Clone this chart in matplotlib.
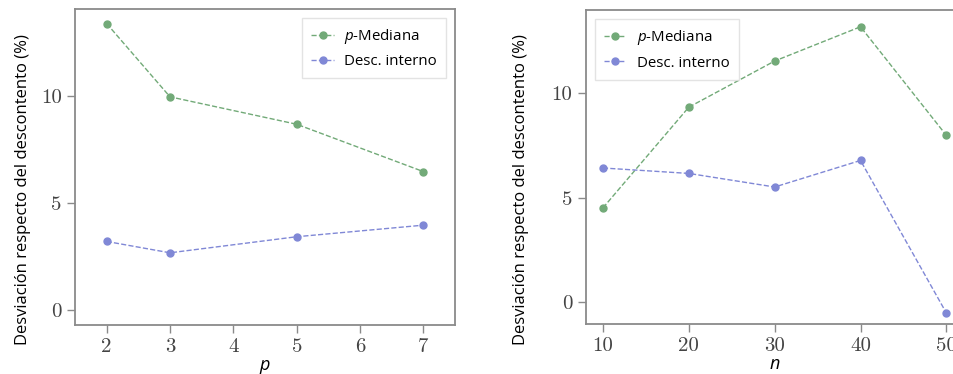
import matplotlib.pyplot as plt
from matplotlib.ticker import FuncFormatter

# Datos panel izquierdo (variando p)
p_vals = [2, 3, 5, 7]
p_mediana_p = [13.37, 9.95, 8.67, 6.46]
desc_interno_p = [3.20, 2.67, 3.42, 3.96]

# Datos panel derecho (variando n)
n_vals = [10, 20, 30, 40, 50]
p_mediana_n = [4.52, 9.34, 11.55, 13.19, 7.99]
desc_interno_n = [6.43, 6.17, 5.52, 6.79, -0.51]

verde = '#72aa78'
azul = '#8088d6'
gris = '#8a8a8a'
ylabel = 'Desviación respecto del descontento (%)'
sans = ['Open Sans', 'DejaVu Sans']

# p en cursiva sans dentro de las leyendas
plt.rcParams['mathtext.fontset'] = 'custom'
plt.rcParams['mathtext.it'] = 'Open Sans:italic'
plt.rcParams['mathtext.rm'] = 'Open Sans'

fig = plt.figure(figsize=(9.54, 3.74), dpi=100)
ax1 = fig.add_axes([0.0786, 0.131, 0.3984, 0.845])
ax2 = fig.add_axes([0.614, 0.133, 0.396, 0.839])

int_fmt = FuncFormatter(lambda v, pos: '%d' % v)


def estilo(ax):
    for s in ax.spines.values():
        s.set_color(gris)
        s.set_linewidth(1.3)
    ax.tick_params(labelcolor='#444444', labelsize=15, length=6, width=1.0, color=gris)
    for lab in ax.get_xticklabels() + ax.get_yticklabels():
        lab.set_family('cmr10')
    ax.xaxis.set_major_formatter(int_fmt)
    ax.yaxis.set_major_formatter(int_fmt)
    ax.set_ylabel(ylabel, family=sans, fontsize=12, color='black')


def leyenda(ax, loc):
    ax.legend(loc=loc, prop={'family': sans, 'size': 10.8}, fancybox=False,
              edgecolor='#dddddd', borderpad=0.6, handlelength=1.5,
              handletextpad=0.7, labelspacing=0.55, borderaxespad=0.6)


# Panel izquierdo
ax1.plot(p_vals, p_mediana_p, '--o', color=verde, ms=5, lw=1.0, label=r'$p$-Mediana')
ax1.plot(p_vals, desc_interno_p, '--o', color=azul, ms=5, lw=1.0, label='Desc. interno')
ax1.set_xlim(1.5, 7.5)
ax1.set_ylim(-0.7, 14.05)
ax1.set_xticks([2, 3, 4, 5, 6, 7])
ax1.set_yticks([0, 5, 10])
estilo(ax1)
ax1.set_xlabel('p', family=sans, style='italic', fontsize=13, labelpad=0)
ax1.yaxis.set_label_coords(-0.115, 0.43)
leyenda(ax1, 'upper right')

# Panel derecho
ax2.plot(n_vals, p_mediana_n, '--o', color=verde, ms=5, lw=1.0, label=r'$p$-Mediana')
ax2.plot(n_vals, desc_interno_n, '--o', color=azul, ms=5, lw=1.0, label='Desc. interno')
ax2.set_xlim(8, 52)
ax2.set_ylim(-1.05, 13.97)
ax2.set_xticks([10, 20, 30, 40, 50])
ax2.set_yticks([0, 5, 10])
estilo(ax2)
ax2.set_xlabel('n', family=sans, style='italic', fontsize=13, labelpad=0)
ax2.yaxis.set_label_coords(-0.15, 0.43)
leyenda(ax2, 'upper left')

fig.savefig('out.png', dpi=100)
